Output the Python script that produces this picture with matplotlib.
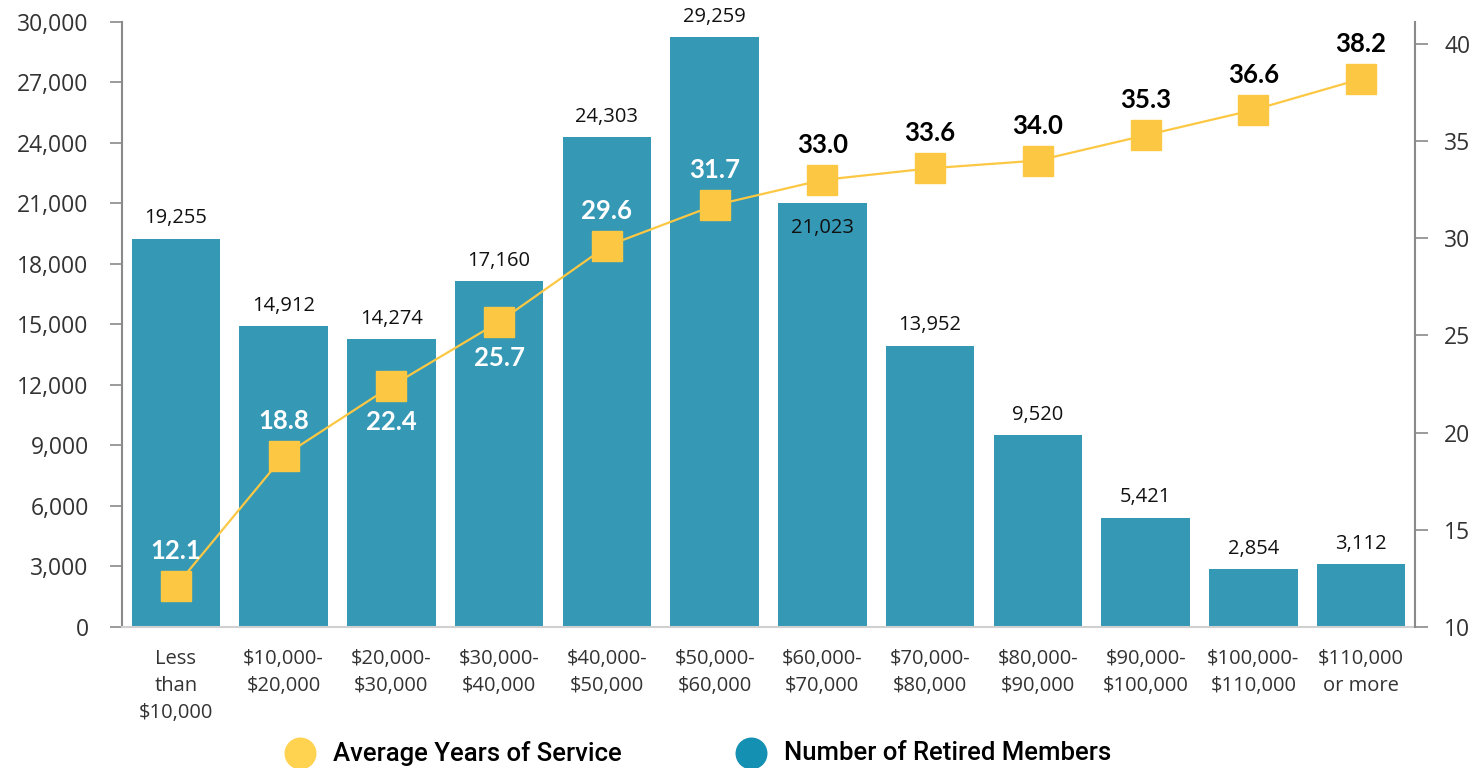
import numpy as np
import matplotlib.pyplot as plt
from matplotlib.lines import Line2D

# salary bands and the two series
categories = ['Less\nthan\n$10,000', '$10,000-\n$20,000', '$20,000-\n$30,000',
              '$30,000-\n$40,000', '$40,000-\n$50,000', '$50,000-\n$60,000',
              '$60,000-\n$70,000', '$70,000-\n$80,000', '$80,000-\n$90,000',
              '$90,000-\n$100,000', '$100,000-\n$110,000', '$110,000\nor more']
retired_members = [19255, 14912, 14274, 17160, 24303, 29259,
                   21023, 13952, 9520, 5421, 2854, 3112]
avg_years = [12.1, 18.8, 22.4, 25.7, 29.6, 31.7,
             33.0, 33.6, 34.0, 35.3, 36.6, 38.2]

BLUE = '#3598b5'
YELLOW = '#fcc844'
GRAY = '#8a8a8a'

plt.rcParams['font.family'] = ['Open Sans', 'DejaVu Sans']

fig = plt.figure(figsize=(14.73, 7.68), dpi=100)
ax = fig.add_axes([0.0828, 0.1836, 0.8778, 0.7878])
ax2 = ax.twinx()

x = np.arange(len(categories))
bars = ax.bar(x, retired_members, width=0.82, color=BLUE, zorder=2)

ax.set_xlim(-0.5, 11.5)
ax.set_ylim(0, 30000)
ax.set_yticks(np.arange(0, 30001, 3000))
ax.set_yticklabels([f'{v:,}' for v in range(0, 30001, 3000)])
ax.set_xticks(x)
ax.set_xticklabels(categories, fontsize=14.5, color='#333333', linespacing=1.45)
ax.tick_params(axis='x', length=0, pad=16)
ax.tick_params(axis='y', labelsize=16.5, colors='#333333', length=9, width=1.2,
               color=GRAY, pad=15)

for s in ['top', 'right']:
    ax.spines[s].set_visible(False)
ax.spines['left'].set_color(GRAY)
ax.spines['left'].set_linewidth(1.5)
ax.spines['bottom'].set_color('#d0d0d0')
ax.spines['bottom'].set_linewidth(1.5)

# bar value labels (the 60-70k one sits inside the bar)
for i, v in enumerate(retired_members):
    if i == 6:
        ax.text(i, v - 1250, f'{v:,}', ha='center', va='center', fontsize=14.5,
                color='#111111', zorder=5)
    else:
        ax.text(i, v + 1000, f'{v:,}', ha='center', va='center', fontsize=14.5,
                color='#111111', zorder=5)

# years of service line on the right axis
ax2.plot(x, avg_years, color=YELLOW, lw=1.6, marker='s', markersize=21,
         markerfacecolor=YELLOW, markeredgecolor=YELLOW, zorder=3)
ax2.set_ylim(10, 41.13)
ax2.set_yticks(np.arange(10, 41, 5))
ax2.tick_params(axis='y', labelsize=16.5, colors='#333333', length=9, width=1.2,
                color=GRAY, pad=12)
for s in ['top', 'left', 'bottom']:
    ax2.spines[s].set_visible(False)
ax2.spines['right'].set_color(GRAY)
ax2.spines['right'].set_linewidth(1.5)

below = {2, 3}
for i, v in enumerate(avg_years):
    col = 'white' if i < 6 else 'black'
    dy = -1.85 if i in below else 1.8
    ax2.text(i, v + dy, f'{v:.1f}', ha='center', va='center', fontsize=18.5,
             fontweight='bold', color=col, family=['Lato', 'DejaVu Sans'],
             zorder=6)

# legend along the bottom
leg_items = [(0.204, '#ffd24f', 'Average Years of Service'),
             (0.510, '#1490b2', 'Number of Retired Members')]
for fx, c, label in leg_items:
    fig.add_artist(Line2D([fx], [0.019], marker='o', markersize=22, color=c,
                          linestyle='none', transform=fig.transFigure))
    fig.text(fx + 0.022, 0.019, label, ha='left', va='center', fontsize=18.5,
             fontweight='medium', color='black', family=['Roboto', 'DejaVu Sans'])

fig.savefig('out.png', dpi=100)
